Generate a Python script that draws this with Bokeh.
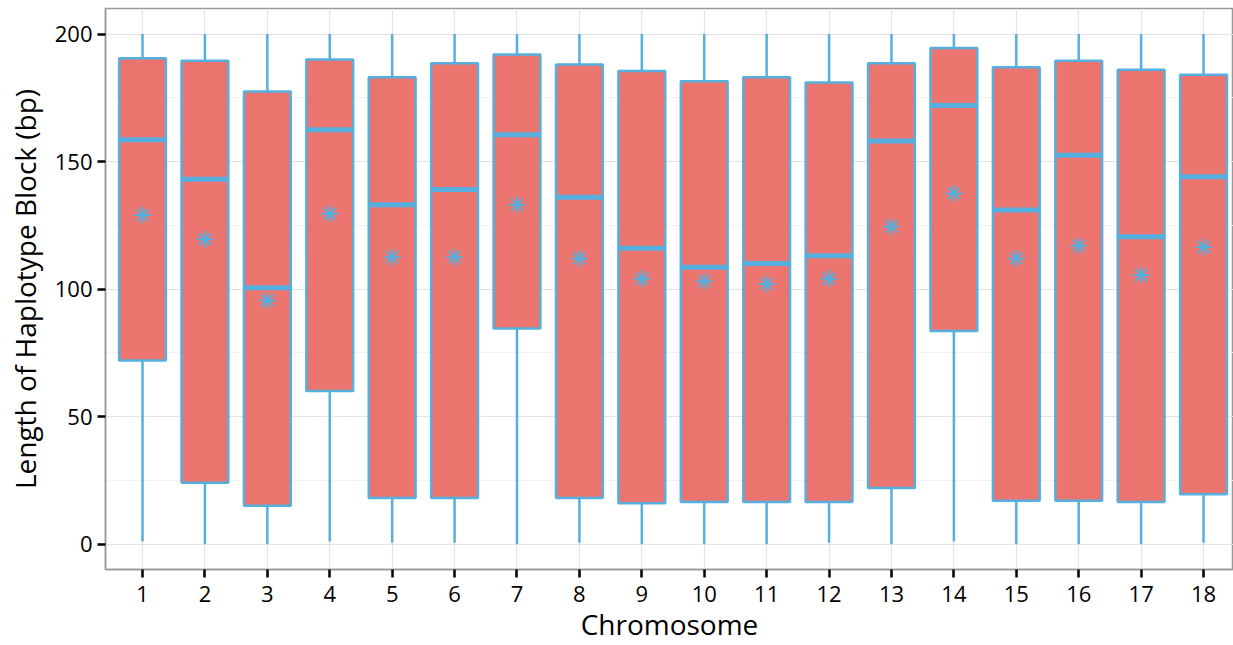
from bokeh.plotting import figure
from bokeh.models import Range1d, FixedTicker, SingleIntervalTicker
from bokeh.embed import file_html
from bokeh.resources import INLINE

chromosomes = list(range(1, 19))
q1 =     [72, 24, 15, 60, 18, 18, 84.5, 18, 16, 16.5, 16.5, 16.5, 22, 83.5, 17, 17, 16.5, 19.5]
median = [158.5, 143, 100.5, 162.5, 133, 139, 160.5, 136, 116, 108.5, 110, 113, 158, 172, 131, 152.5, 120.5, 144]
q3 =     [190.5, 189.5, 177.5, 190, 183, 188.5, 192, 188, 185.5, 181.5, 183, 181, 188.5, 194.5, 187, 189.5, 186, 184]
mean =   [129, 119.5, 95.5, 129.5, 112.5, 112.5, 133, 112, 104, 103, 102, 104, 124.5, 137.5, 112, 117, 105.5, 116.5]
lower =  [1, 0, 0, 1, 0.5, 0.5, 0, 0.5, 0, 0, 0, 0.5, 0, 1, 0, 0, 0, 0.5]
upper =  [200] * 18

BLUE = "#56B0DF"
FILL = "#EB746F"
FONT = "Open Sans"

p = figure(width=1233, height=645, output_backend="svg", toolbar_location=None,
           x_range=Range1d(0.407, 18.48), y_range=Range1d(-10, 210),
           min_border_left=105, min_border_right=0, min_border_top=8, min_border_bottom=76)

p.segment(x0=chromosomes, y0=q3, x1=chromosomes, y1=upper, line_color=BLUE, line_width=2.5)
p.segment(x0=chromosomes, y0=lower, x1=chromosomes, y1=q1, line_color=BLUE, line_width=2.5)
p.vbar(x=chromosomes, bottom=q1, top=q3, width=0.75, fill_color=FILL, line_color=BLUE, line_width=2.5)
xl = [c - 0.375 for c in chromosomes]
xr = [c + 0.375 for c in chromosomes]
p.segment(x0=xl, y0=median, x1=xr, y1=median, line_color=BLUE, line_width=5)
p.scatter(x=chromosomes, y=mean, marker="asterisk", size=17, line_color=BLUE, line_width=2)

p.xaxis.ticker = FixedTicker(ticks=chromosomes)
p.yaxis.ticker = SingleIntervalTicker(interval=50, num_minor_ticks=2)
p.xaxis.axis_label = "Chromosome"
p.yaxis.axis_label = "Length of Haplotype Block (bp)"
for ax in (p.xaxis, p.yaxis):
    ax.axis_label_text_font = FONT
    ax.axis_label_text_font_size = "28px"
    ax.axis_label_text_font_style = "normal"
    ax.axis_label_text_color = "black"
    ax.major_label_text_font = FONT
    ax.major_label_text_font_size = "22px"
    ax.major_label_text_color = "black"
    ax.axis_line_color = "#999999"
    ax.axis_line_width = 1.5
    ax.major_tick_line_color = "black"
    ax.major_tick_line_width = 2.5
    ax.major_tick_out = 8
    ax.major_tick_in = 0
    ax.minor_tick_line_color = None
p.xaxis.major_label_standoff = 8
p.yaxis.major_label_standoff = 5
p.xaxis.axis_label_standoff = 0
p.yaxis.axis_label_standoff = 8

p.xgrid.grid_line_color = "#e3e3e3"
p.ygrid.grid_line_color = "#e3e3e3"
p.ygrid.minor_grid_line_color = "#f2f2f2"
p.xgrid.grid_line_width = 1.2
p.ygrid.grid_line_width = 1.2
p.ygrid.minor_grid_line_width = 1.2
p.outline_line_color = "#999999"
p.outline_line_width = 1.5
p.background_fill_color = "white"

open("out.html", "w").write(file_html(p, INLINE))
